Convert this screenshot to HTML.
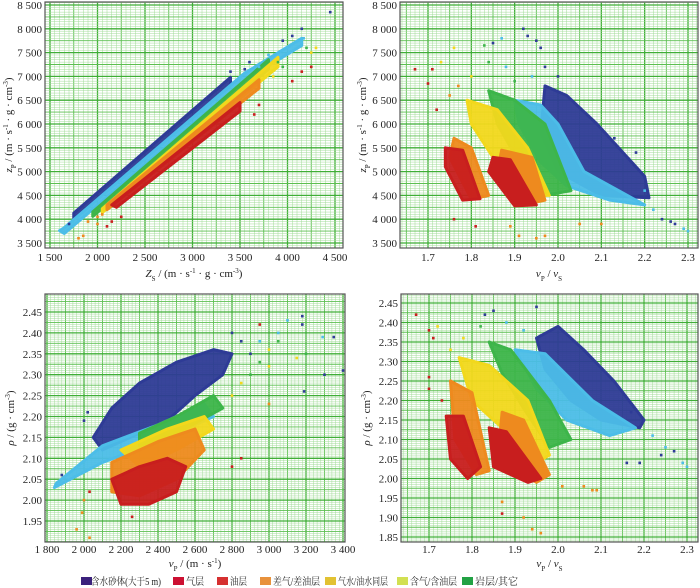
<!DOCTYPE html>
<html><head><meta charset="utf-8"><style>
body{margin:0;background:#fff;width:700px;height:588px;overflow:hidden}
svg{display:block}
text{font-family:"Liberation Serif","Noto Serif CJK SC","Noto Sans CJK SC",serif;fill:#222}
</style></head><body>
<svg id="c" width="700" height="588" xmlns="http://www.w3.org/2000/svg"></svg>
<script>
const seriesColors=["#2e3b96","#4cbde8","#3db54a","#f2d81c","#ee8a1e","#c81e1e"];
const seriesNames=["blue","light-blue","green","yellow","orange","red"];
const tlXTicks=[1500,2000,2500,3000,3500,4000,4500];
const tlYTicks=[3500,4000,4500,5000,5500,6000,6500,7000,7500,8000,8500];
const trXTicks=[1.7,1.8,1.9,2.0,2.1,2.2,2.3];
const blXTicks=[1800,2000,2200,2400,2600,2800,3000,3200,3400];
const blYTicks=[1.95,2.00,2.05,2.10,2.15,2.20,2.25,2.30,2.35,2.40,2.45];
const brYTicks=[1.85,1.90,1.95,2.00,2.05,2.10,2.15,2.20,2.25,2.30,2.35,2.40,2.45];
const tlBands=[
 [[1750,4128],[3400,6980],[3400,6810],[1750,4000]],
 [[1600,3760],[1650,3820],[3550,7070],[4150,7800],[4150,7650],[3550,6920],[1650,3700]],
 [[1950,4153],[3800,7350],[3800,7150],[1950,4060]],
 [[2050,4220],[3900,7400],[3900,7200],[2050,4140]],
 [[2100,4300],[3700,6930],[3700,6750],[2100,4200]],
 [[2150,4300],[3500,6450],[3500,6270],[2200,4250]]
];
const tlPts=[[4450,8350,0],[4150,8000,0],[4050,7850,0],[3950,7750,0],[4170,7800,1],[4200,7600,2],[4250,7500,3],[4300,7600,3],[4150,7100,5],[4250,7200,5],[4050,6900,5],[3700,6400,5],[3650,6200,5],[1800,3600,4],[1850,3650,4],[1900,3950,4],[2000,3900,4],[2100,3850,5],[2150,3950,5],[2000,4050,4],[2050,4100,4],[2250,4050,5],[1700,3900,0],[3400,7100,0],[3600,7300,0],[3800,7450,1],[3900,7300,2],[3550,7150,0],[3700,7200,1],[3850,7000,3],[3950,7200,2]];
const trBands=[
 [[1.97,6800],[2.02,6600],[2.09,6000],[2.2,4900],[2.21,4450],[2.1,4500],[2.0,5000],[1.96,5800]],
 [[1.9,6500],[1.96,6400],[2.0,6000],[2.06,5000],[2.2,4300],[2.12,4400],[2.02,4700],[1.96,5200],[1.91,6000]],
 [[1.84,6700],[1.9,6500],[1.97,6000],[2.03,4600],[1.97,4500],[1.91,5200],[1.86,6000]],
 [[1.79,6500],[1.86,6300],[1.93,5500],[1.98,4500],[1.92,4500],[1.85,5300],[1.8,6000]],
 [[1.76,5700],[1.8,5500],[1.84,4500],[1.8,4420],[1.75,5300]],
 [[1.74,5500],[1.78,5450],[1.82,4430],[1.78,4400],[1.74,5100]]
];
const trBands2=[
 [[1.87,5450],[1.94,5300],[1.97,4400],[1.93,4320],[1.86,5000]],
 [[1.85,5300],[1.89,5250],[1.95,4300],[1.9,4280],[1.84,5000]]
];
const trPts=[[1.92,8000,0],[1.93,7850,0],[1.95,7750,0],[1.96,7600,0],[1.87,7800,1],[1.85,7700,0],[1.83,7650,2],[1.76,7600,3],[1.73,7300,3],[1.67,7150,5],[1.7,6850,5],[1.71,7150,5],[1.72,6300,5],[1.76,4000,5],[1.81,3850,5],[1.89,3850,4],[1.91,3650,4],[1.95,3600,4],[1.97,3650,4],[2.05,3900,4],[2.1,3900,4],[2.24,4000,0],[2.27,3900,0],[2.29,3800,1],[2.3,3750,1],[2.26,3950,0],[2.18,5400,0],[2.13,5700,0],[2.22,4200,1],[2.2,4600,1],[1.97,7200,0],[2.0,7000,0],[1.88,7200,1],[1.84,7300,2],[1.8,7000,3],[1.77,6800,4],[1.75,6600,4],[1.94,7000,1],[1.9,6900,2]];
const blBands=[
 [[2050,2.15],[2150,2.22],[2300,2.28],[2500,2.33],[2700,2.36],[2800,2.35],[2750,2.3],[2600,2.25],[2450,2.19],[2250,2.15],[2100,2.12]],
 [[1850,2.04],[2100,2.13],[2400,2.18],[2650,2.23],[2700,2.2],[2400,2.14],[2100,2.09],[1840,2.03]],
 [[2300,2.16],[2500,2.2],[2700,2.25],[2750,2.22],[2500,2.16],[2300,2.13]],
 [[2200,2.12],[2450,2.17],[2650,2.2],[2700,2.17],[2500,2.12],[2300,2.08]],
 [[2150,2.09],[2400,2.14],[2600,2.17],[2650,2.12],[2500,2.05],[2300,2.01],[2150,2.02]],
 [[2150,2.05],[2300,2.08],[2450,2.1],[2550,2.08],[2500,2.02],[2350,1.99],[2200,1.99]]
];
const blPts=[[3180,2.44,0],[3180,2.42,0],[3100,2.43,1],[2950,2.42,5],[3350,2.39,0],[3400,2.31,0],[3290,2.39,1],[3200,2.35,2],[3050,2.38,2],[3000,2.36,3],[3150,2.34,3],[3190,2.26,0],[3300,2.30,0],[2950,2.33,2],[2850,2.28,3],[3000,2.23,4],[2850,2.1,5],[2800,2.08,5],[2000,2.0,4],[1990,1.97,4],[1960,1.93,4],[2030,1.91,4],[2260,1.96,5],[2030,2.02,5],[1880,2.06,0],[2000,2.19,0],[2020,2.21,0],[2900,2.35,0],[3050,2.4,1],[2850,2.38,0],[2800,2.4,0],[2950,2.38,1],[2900,2.3,2],[3000,2.32,3],[2800,2.25,3]];
const brBands=[
 [[1.95,2.36],[2.0,2.39],[2.06,2.33],[2.13,2.25],[2.2,2.15],[2.19,2.13],[2.1,2.15],[2.03,2.2],[1.97,2.28]],
 [[1.9,2.33],[1.97,2.32],[2.08,2.2],[2.18,2.13],[2.12,2.11],[2.02,2.15],[1.95,2.23]],
 [[1.84,2.35],[1.89,2.33],[1.98,2.2],[2.03,2.1],[1.98,2.08],[1.92,2.18],[1.87,2.27]],
 [[1.77,2.31],[1.84,2.29],[1.93,2.2],[1.98,2.06],[1.95,2.04],[1.88,2.12],[1.8,2.2]],
 [[1.75,2.25],[1.8,2.22],[1.84,2.02],[1.81,2.01],[1.76,2.1]],
 [[1.74,2.16],[1.78,2.16],[1.82,2.03],[1.79,2.0],[1.75,2.05]]
];
const brBands2=[
 [[1.87,2.17],[1.92,2.15],[1.98,2.01],[1.95,1.99],[1.86,2.05]],
 [[1.84,2.13],[1.88,2.12],[1.96,2.0],[1.93,1.99],[1.85,2.03]]
];
const brPts=[[1.95,2.44,0],[1.85,2.43,0],[1.83,2.42,0],[1.67,2.42,5],[1.7,2.38,5],[1.71,2.36,5],[1.72,2.39,3],[1.7,2.26,5],[1.7,2.23,5],[1.73,2.2,5],[1.87,1.94,4],[1.87,1.91,5],[1.92,1.9,4],[1.94,1.87,4],[1.96,1.86,4],[2.01,1.98,4],[2.06,1.98,4],[2.08,1.97,4],[2.09,1.97,4],[2.24,2.06,0],[2.27,2.07,0],[2.29,2.04,1],[2.3,2.03,1],[2.16,2.04,0],[2.19,2.04,0],[2.22,2.11,1],[2.17,2.17,0],[2.25,2.08,1],[1.88,2.4,1],[1.92,2.38,1],[1.82,2.39,2],[1.78,2.36,3],[1.75,2.33,3]];

const svg=document.getElementById('c');const NS="http://www.w3.org/2000/svg";
function mk(tag,attrs,parent){const e=document.createElementNS(NS,tag);for(const k in attrs)e.setAttribute(k,attrs[k]);(parent||svg).appendChild(e);return e;}
function fmt(v,dec){let s=dec?v.toFixed(dec):String(v);if(!dec&&v>=1000){s=s.slice(0,s.length-3)+" "+s.slice(-3);}return s;}
let clipN=0;
function panel(cfg){
 const g=mk('g',{});
 
 
 const [L,T,R,B]=cfg.frame;
 const sx=v=>cfg.xa[1]+(v-cfg.xa[0])*(cfg.xa[3]-cfg.xa[1])/(cfg.xa[2]-cfg.xa[0]);
 const sy=v=>cfg.ya[1]+(v-cfg.ya[0])*(cfg.ya[3]-cfg.ya[1])/(cfg.ya[2]-cfg.ya[0]);
 const id='cl'+(clipN++);
 const cp=mk('clipPath',{id:id},g);mk('rect',{x:L,y:T,width:R-L,height:B-T},cp);
 const grid=mk('g',{'clip-path':`url(#${id})`},g);
 
 
 const xstep=cfg.xstep,ystep=cfg.ystep;
 const sty=i=>{const m=((i%10)+10)%10;return m===0?[1.3,"#3fae36"]:(m===5?[0.9,"#5cbf50"]:[0.5,"#a2dc98"]);};
 for(let i=-300;i<=300;i++){const v=cfg.xa[0]+i*xstep/10;const p=sx(v);if(p<L||p>R)continue;
  const [w,col]=sty(i);mk('line',{x1:p,x2:p,y1:T,y2:B,stroke:col,'stroke-width':w},grid);}
 for(let i=-300;i<=300;i++){const v=cfg.ya[0]+i*ystep/10;const p=sy(v);if(p<T||p>B)continue;
  const [w,col]=sty(i);mk('line',{x1:L,x2:R,y1:p,y2:p,stroke:col,'stroke-width':w},grid);}
 const marks=mk('g',{'clip-path':`url(#${id})`},g);
 
 
 cfg.bands.forEach((poly,si)=>{
  const pg=mk('polygon',{points:poly.map(p=>sx(p[0])+','+sy(p[1])).join(' '),fill:seriesColors[si],stroke:seriesColors[si],'stroke-width':3,'stroke-linejoin':'round','fill-opacity':0.95},marks);
  
  
 });
 (cfg.bands2||[]).forEach((poly,k)=>{const si=4+k;
  const pg=mk('polygon',{points:poly.map(p=>sx(p[0])+','+sy(p[1])).join(' '),fill:seriesColors[si],stroke:seriesColors[si],'stroke-width':3,'stroke-linejoin':'round'},marks);
  
  
 });
 cfg.pts.forEach(p=>{
  const r=mk('rect',{x:sx(p[0])-1.3,y:sy(p[1])-1.3,width:2.6,height:2.6,fill:seriesColors[p[2]]},marks);
  
  
 });
 const fr=mk('rect',{x:L,y:T,width:R-L,height:B-T,fill:'none',stroke:'#555','stroke-width':1.2},g);
 
 
 cfg.xt.forEach(v=>{const t=mk('text',{x:sx(v),y:B+cfg.tdy,'font-size':11,'text-anchor':'middle'},g);t.textContent=fmt(v,cfg.xdec);
  
  });
 cfg.yt.forEach(v=>{const t=mk('text',{x:L-3,y:sy(v)+4,'font-size':11,'text-anchor':'end'},g);t.textContent=fmt(v,cfg.ydec);
  
  });
 const xl=mk('text',{x:(L+R)/2,y:B+cfg.ldy,'font-size':11,'text-anchor':'middle'},g);xl.innerHTML=cfg.xlabel;
 
 
 const yl=mk('text',{x:0,y:0,'font-size':11,'text-anchor':'middle',transform:`translate(${cfg.ylx},${(T+B)/2}) rotate(-90)`},g);yl.innerHTML=cfg.ylabel;
 
 
}
const zl='(m · s<tspan baseline-shift="super" font-size="7">-1</tspan> · g · cm<tspan baseline-shift="super" font-size="7">-3</tspan>)';
panel({name:'panel-zs-zp',frame:[45,2,343,248],xa:[1500,50,4500,335],ya:[8500,5,3500,243],xstep:500,ystep:500,xt:tlXTicks,yt:tlYTicks,bands:tlBands,pts:tlPts,tdy:13,ldy:29,ylx:12,
 xlabel:'<tspan font-style="italic">Z</tspan><tspan font-size="7" baseline-shift="sub">S</tspan> / '+zl,ylabel:'<tspan font-style="italic">z</tspan><tspan font-size="7" baseline-shift="sub">P</tspan> / '+zl});
panel({name:'panel-vpvs-zp',frame:[400,2,698,248],xa:[1.7,428,2.3,688],ya:[8500,5,3500,243],xstep:0.1,ystep:500,xt:trXTicks,yt:tlYTicks,xdec:1,bands:trBands,bands2:trBands2,pts:trPts,tdy:13,ldy:29,ylx:366,
 xlabel:'<tspan font-style="italic">v</tspan><tspan font-size="7" baseline-shift="sub">P</tspan> / <tspan font-style="italic">v</tspan><tspan font-size="7" baseline-shift="sub">S</tspan>',ylabel:'<tspan font-style="italic">z</tspan><tspan font-size="7" baseline-shift="sub">P</tspan> / '+zl});
panel({name:'panel-vp-rho',frame:[45,294,345,542],xa:[1800,47,3400,343],ya:[2.45,312,1.95,521],xstep:200,ystep:0.05,xt:blXTicks,yt:blYTicks,ydec:2,bands:blBands,pts:blPts,tdy:11,ldy:25,ylx:14,
 xlabel:'<tspan font-style="italic">v</tspan><tspan font-size="7" baseline-shift="sub">P</tspan> / (m · s<tspan baseline-shift="super" font-size="7">-1</tspan>)',ylabel:'<tspan font-style="italic">ρ</tspan> / (g · cm<tspan baseline-shift="super" font-size="7">-3</tspan>)'});
panel({name:'panel-vpvs-rho',frame:[401,294,698,542],xa:[1.7,429,2.3,687],ya:[2.45,303,1.85,537],xstep:0.1,ystep:0.05,xt:trXTicks,yt:brYTicks,xdec:1,ydec:2,bands:brBands,bands2:brBands2,pts:brPts,tdy:11,ldy:25,ylx:370,
 xlabel:'<tspan font-style="italic">v</tspan><tspan font-size="7" baseline-shift="sub">P</tspan> / <tspan font-style="italic">v</tspan><tspan font-size="7" baseline-shift="sub">S</tspan>',ylabel:'<tspan font-style="italic">ρ</tspan> / (g · cm<tspan baseline-shift="super" font-size="7">-3</tspan>)'});
const legendLabels=["含水砂体(大于5 m)","气层","油层","差气/差油层","气水/油水同层","含气/含油层","岩层/其它"];
const legendColors=["#3b217c","#cc1032","#d63030","#e8923c","#e2c232","#d2e052","#22a244"];
const legendX=[81,173,217,260,325,397,462];
const legendW=[70,18,17,47,50,47,43];
const lg=mk('g',{});


legendLabels.forEach((s,i)=>{
 const r=mk('rect',{x:legendX[i],y:577,width:11,height:8,fill:legendColors[i]},lg);
 
 
 const t=mk('text',{x:legendX[i]+(i===0?10:13),y:585,'font-size':10,textLength:legendW[i],lengthAdjust:'spacingAndGlyphs'},lg);t.textContent=s;
 
 
});
</script>
</body></html>
